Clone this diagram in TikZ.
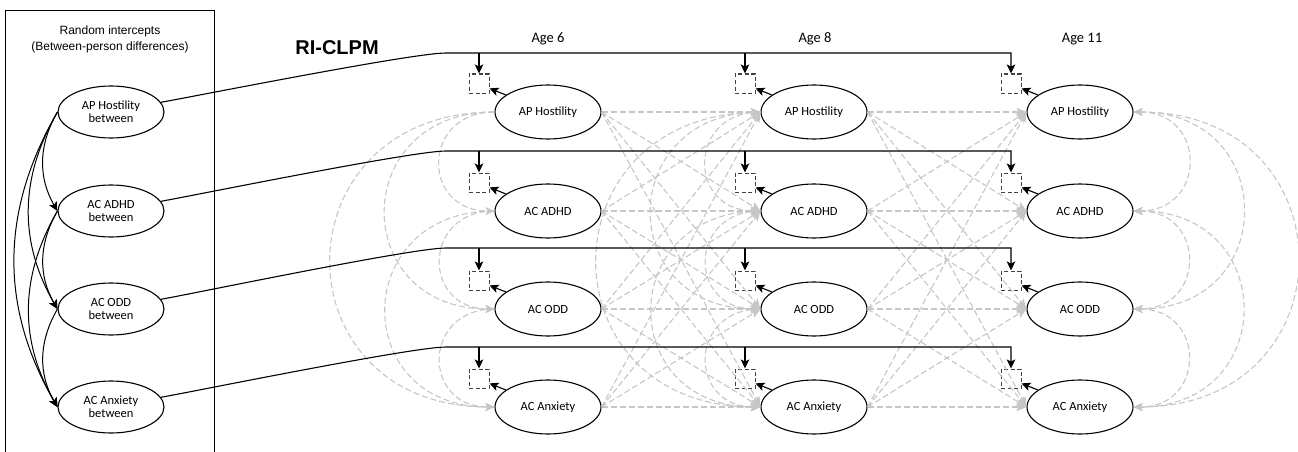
\documentclass[tikz,border=0pt]{standalone}
\usepackage{fontspec}
\setmainfont{Carlito}
\newfontfamily\arialf{Liberation Sans}
\usetikzlibrary{arrows.meta,shapes.geometric}
\definecolor{lagcol}{HTML}{C6C6C6}
\definecolor{boxcol}{HTML}{404040}

\begin{document}
\begin{tikzpicture}[x=1pt,y=-1pt,
  lat/.style={ellipse, draw, line width=1.1pt, fill=white, minimum width=106pt,
    minimum height=54pt, inner sep=0pt, align=center,
    font=\fontsize{12.5}{13}\selectfont},
  resbox/.style={draw=boxcol, line width=1pt, dash pattern=on 4pt off 2.5pt,
    minimum width=20pt, minimum height=19pt, inner sep=0pt},
  blk/.style={line width=1.1pt, -{Stealth[length=9pt,width=8.5pt,inset=2pt]}},
  bcov/.style={line width=1pt, -{Stealth[length=9pt,width=8.5pt,inset=2pt]}},
  lag/.style={draw=lagcol, line width=1.1pt, dash pattern=on 6pt off 3pt,
    -{Stealth[length=10pt,width=8.5pt,inset=2pt,fill=lagcol]}},
  cov/.style={draw=lagcol, line width=1.1pt, dash pattern=on 6pt off 3pt,
    -{Stealth[length=9pt,width=8pt,inset=2pt,fill=lagcol]}},
  covboth/.style={draw=lagcol, line width=1.1pt, dash pattern=on 6pt off 3pt,
    {Stealth[length=9pt,width=8pt,inset=2pt,fill=lagcol]}-{Stealth[length=9pt,width=8pt,inset=2pt,fill=lagcol]}},
  hdr/.style={font=\fontsize{14.5}{16}\selectfont}
]
\useasboundingbox (0,0) rectangle (1298,452);

% frame around the random intercepts
\draw[line width=1pt] (5,452) -- (5,11) -- (214,11) -- (214,452);
\node[font=\arialf\fontsize{12}{16}\selectfont, align=center] (ttl) at (110,39)
  {Random intercepts\\(Between-person differences)};
\node[font=\arialf\bfseries\fontsize{20}{24}\selectfont] (model) at (337,48) {RI-CLPM};

% wave labels
\node[hdr] (age6) at (548,39) {Age 6};
\node[hdr] (age8) at (815,39) {Age 8};
\node[hdr] (age11) at (1082,39) {Age 11};

% latent variables and residual boxes
\foreach \i/\y/\t in {1/112/AP Hostility,2/211/AC ADHD,3/309/AC ODD,4/407/AC Anxiety}{
  \node[lat, minimum height=52pt] (b\i) at (111,\y) {\t\\between};
  \node[lat] (p\i) at (548,\y) {\t};
  \node[lat] (q\i) at (814,\y) {\t};
  \node[lat] (s\i) at (1080,\y) {\t};
  \node[resbox] (rp\i) at (479,\y-28.5) {};
  \node[resbox] (rq\i) at (745,\y-28.5) {};
  \node[resbox] (rs\i) at (1011,\y-28.5) {};
}

% cross-lagged and autoregressive paths
\foreach \i in {1,...,4}{
  \foreach \j in {1,...,4}{
    \draw[lag] (p\i.east) -- (q\j.west);
    \draw[lag] (q\i.east) -- (s\j.west);
  }
}

% within-wave covariances and intercept covariances
\foreach \i/\j in {1/2,1/3,1/4,2/3,2/4,3/4}{
  \draw[cov] (p\i.west) to[out=180,in=180,looseness=1.9] (p\j.west);
  \draw[cov] (q\i.west) to[out=180,in=180,looseness=1.9] (q\j.west);
  \draw[covboth] (s\i.east) to[out=0,in=0,looseness=1.9] (s\j.east);
  \draw[bcov] (b\i.west) to[bend right=30] (b\j.west);
}

% random intercept loadings and residual paths
\foreach \i/\y in {1/53,2/151,3/248,4/347}{
  \coordinate (h\i) at (446,\y);
  \draw[blk] (b\i.11) to[out=10,in=180,looseness=0.3] (h\i) -- (h\i -| rs\i.north) -- (rs\i.north);
  \draw[blk] (h\i -| rp\i.north) -- (rp\i.north);
  \draw[blk] (h\i -| rq\i.north) -- (rq\i.north);
  \draw[blk] (p\i.158) -- (rp\i.-25);
  \draw[blk] (q\i.158) -- (rq\i.-25);
  \draw[blk] (s\i.158) -- (rs\i.-25);
}
\end{tikzpicture}
\end{document}
